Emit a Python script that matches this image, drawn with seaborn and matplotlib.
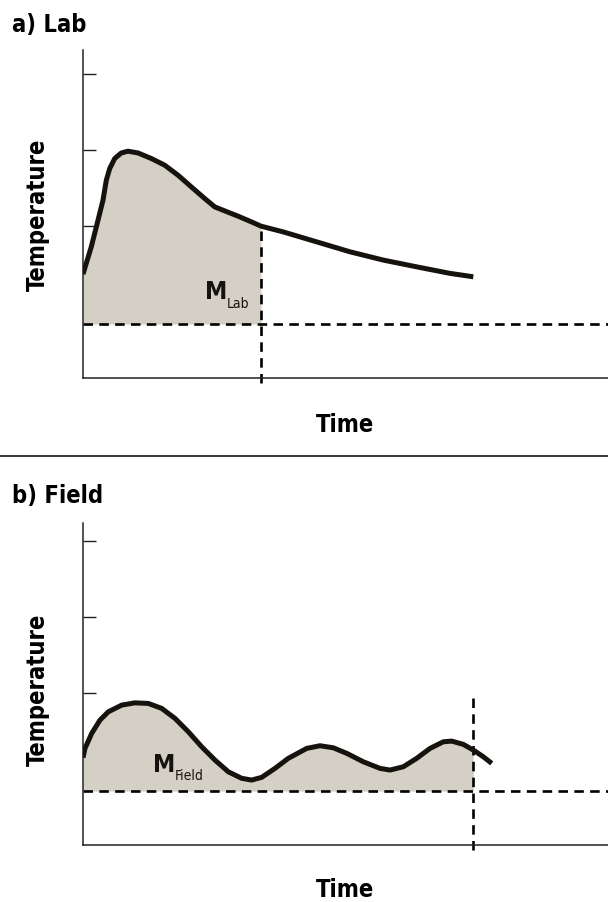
import matplotlib
matplotlib.use('Agg')
import numpy as np
import pandas as pd
import matplotlib.pyplot as plt
import seaborn as sns
from matplotlib.lines import Line2D

# ── Data (time / temperature in tick units) ───────────────────────────────────
lab_time = [0, 0.158, 0.286, 0.381, 0.444, 0.509, 0.604, 0.73, 0.857, 1.048,
            1.301, 1.556, 1.81, 2.063, 2.318, 2.509, 2.699, 2.952, 3.206, 3.39,
            3.81, 4.451, 5.086, 5.72, 6.356, 6.99, 7.434]
lab_temp = [1.368, 1.728, 2.079, 2.342, 2.605, 2.759, 2.891, 2.964, 2.987, 2.964,
            2.891, 2.803, 2.671, 2.517, 2.364, 2.254, 2.201, 2.132, 2.057, 2.0,
            1.925, 1.793, 1.662, 1.553, 1.464, 1.378, 1.333]

field_time = [0, 0.038, 0.166, 0.324, 0.482, 0.737, 0.99, 1.244, 1.499, 1.752,
              2.006, 2.261, 2.514, 2.768, 3.023, 3.213, 3.404, 3.657, 3.91, 4.261,
              4.514, 4.768, 5.023, 5.339, 5.657, 5.848, 6.101, 6.356, 6.61, 6.863,
              7.023, 7.244, 7.434, 7.625, 7.785]
field_temp = [1.15, 1.272, 1.47, 1.645, 1.754, 1.842, 1.872, 1.864, 1.799, 1.667,
              1.491, 1.293, 1.118, 0.964, 0.878, 0.855, 0.891, 1.009, 1.141, 1.272,
              1.307, 1.28, 1.207, 1.096, 1.009, 0.987, 1.03, 1.141, 1.272, 1.359,
              1.368, 1.325, 1.25, 1.162, 1.075]

lab_base, lab_cut = 0.71, 3.39
field_base, field_cut = 0.71, 7.434
y_ticks = [1, 2, 3, 4]

# ── Style ──────────────────────────────────────────────────────────────────────
sns.set_style('white')
plt.rcParams['font.family'] = ['DejaVu Sans']
plt.rcParams['font.stretch'] = 'condensed'
plt.rcParams['text.color'] = 'black'

W, H = 608, 902
fig = plt.figure(figsize=(W / 100, H / 100), dpi=100)

FILL = '#d5d0c5'
INK = '#16130f'
DASH = (0, (3.6, 2.4))


def px(x, y):
    """pixel position -> figure fraction"""
    return x / W, 1 - y / H


def panel(rect, t, temp, base, cut, ytop, vtop, sub, m_pos, sub_pos):
    ax = fig.add_axes(rect)
    df = pd.DataFrame({'Time': t, 'Temperature': temp})
    t_arr, temp_arr = np.array(t), np.array(temp)
    mask = t_arr <= cut + 1e-9
    ax.fill_between(t_arr[mask], base, temp_arr[mask], color=FILL, lw=0, zorder=1)
    sns.lineplot(data=df, x='Time', y='Temperature', estimator=None, sort=False,
                 color=INK, lw=3.6, ax=ax, zorder=3,
                 solid_capstyle='butt', solid_joinstyle='round')
    ax.axhline(base, color='black', lw=1.9, linestyle=DASH, zorder=2)
    if vtop is None:
        vtop = temp_arr[mask][-1]
    ax.vlines(cut, -0.06, vtop, color='black', lw=1.9, linestyles=DASH,
              zorder=2, clip_on=False)
    ax.set_xlim(0, 10)
    ax.set_ylim(0, ytop)
    ax.set_yticks(y_ticks)
    ax.set_xticks([])
    ax.set_yticklabels([])
    ax.set_xlabel('')
    ax.set_ylabel('')
    ax.tick_params(axis='y', direction='in', length=9, width=1.0, color='#222222', left=True)
    for s in ['top', 'right']:
        ax.spines[s].set_visible(False)
    for s in ['left', 'bottom']:
        ax.spines[s].set_color('#222222')
        ax.spines[s].set_linewidth(1.1)
    ax.patch.set_alpha(0)
    ax.text(m_pos[0], m_pos[1], 'M', fontsize=18, fontweight='bold', color=INK,
            ha='left', va='baseline', zorder=4)
    ax.text(sub_pos[0], sub_pos[1], sub, fontsize=10, color=INK,
            ha='left', va='baseline', zorder=4)
    return ax


# top panel: axes from x=83..608, y=50..378 px
l, b = px(83, 378)
panel([l, b, 525 / W, 328 / H], lab_time, lab_temp, lab_base, lab_cut, 4.32, None,
      'Lab', (2.32, 1.04), (2.74, 0.92))

# bottom panel: axes from x=83..608, y=523..845 px
l, b = px(83, 845)
panel([l, b, 525 / W, 322 / H], field_time, field_temp, field_base, field_cut, 4.24, 1.93,
      'Field', (1.33, 0.96), (1.75, 0.855))

# ── Titles, labels, separator ──────────────────────────────────────────────────
fig.text(*px(12, 32), 'a) Lab', fontsize=17, fontweight='bold', ha='left', va='baseline')
fig.text(*px(12, 503), 'b) Field', fontsize=17, fontweight='bold', ha='left', va='baseline')
fig.text(*px(345, 425), 'Time', fontsize=17, fontweight='bold', ha='center', va='center')
fig.text(*px(345, 890), 'Time', fontsize=17, fontweight='bold', ha='center', va='center')
fig.text(*px(38, 215), 'Temperature', fontsize=17, fontweight='bold', rotation=90,
         ha='center', va='center')
fig.text(*px(38, 690), 'Temperature', fontsize=17, fontweight='bold', rotation=90,
         ha='center', va='center')
fig.add_artist(Line2D([0, 1], [1 - 456 / H] * 2, transform=fig.transFigure,
                      color='#3a3a3a', lw=1.4))

fig.savefig('out.png', dpi=100)
